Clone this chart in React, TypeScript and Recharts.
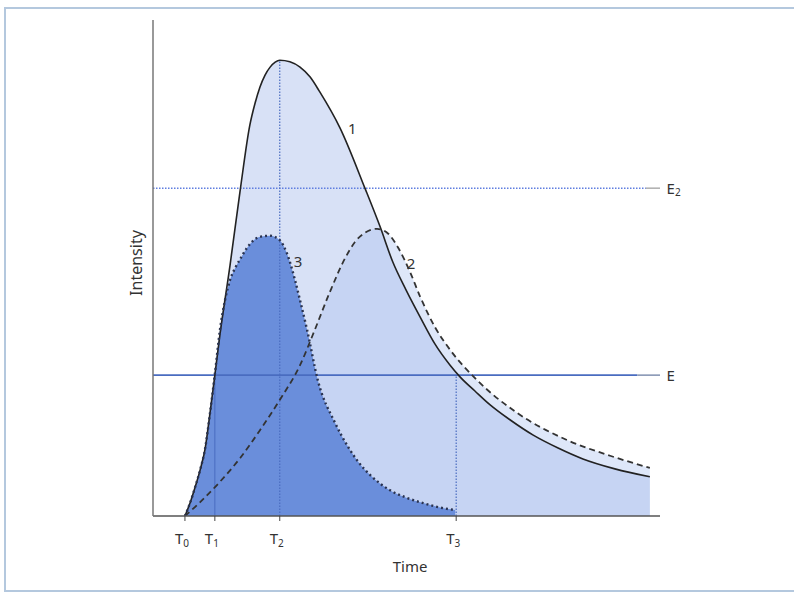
import React from "react";
import {
  ComposedChart,
  Area,
  Line,
  XAxis,
  YAxis,
  ReferenceLine,
  ReferenceDot,
} from "recharts";

// curve 1 (solid) – total response
const curve1X = [6.3, 7.3, 8.3, 9.3, 10.3, 11.2, 12.2, 13.2, 15.2, 17.2, 19.1, 20.1, 21.1, 22.1, 23.1, 24.1, 25.0, 27.0, 29.0, 31.0, 32.9, 36.9, 41.8, 44.8, 47.3, 49.9, 52.7, 55.6, 58.6, 60.6, 63.5, 66.5, 70.4, 75.0, 79.9, 84.8, 91.1, 98.0];
const curve1Y = [0, 2.6, 5.8, 9.3, 13.7, 20.4, 28.4, 36.5, 50.6, 65.7, 78.8, 83.1, 86.5, 88.9, 90.5, 91.5, 91.9, 91.6, 90.5, 88.5, 85.5, 78.2, 66.1, 58.3, 51.2, 45.6, 40.1, 34.7, 30.4, 28.0, 25.2, 22.4, 19.4, 16.3, 13.7, 11.5, 9.5, 7.9];

// curve 2 (dashed)
const curve2X = [6.3, 9.3, 13.2, 17.2, 21.1, 25.0, 29.0, 31.9, 34.9, 37.9, 39.8, 41.8, 44.2, 46.4, 48.3, 50.7, 52.7, 55.6, 58.6, 63.9, 71.8, 81.7, 90.3, 98.0];
const curve2Y = [0, 2.8, 6.9, 11.7, 17.3, 23.4, 30.4, 37.5, 45.2, 52.0, 55.2, 57.1, 57.9, 56.9, 54.2, 49.2, 44.2, 38.1, 33.5, 27.4, 20.8, 15.3, 12.1, 9.7];

// curve 3 (dotted)
const curve3X = [6.3, 7.3, 8.3, 9.3, 10.3, 11.2, 12.2, 13.2, 14.2, 15.2, 16.2, 17.2, 18.5, 21.1, 23.1, 25.0, 26.4, 28.0, 29.0, 30.4, 32.5, 35.9, 38.5, 40.5, 43.0, 46.4, 49.7, 53.3, 56.2, 59.6];
const curve3Y = [0, 2.6, 5.8, 9.3, 13.7, 20.4, 28.6, 37.5, 43.5, 47.6, 50.0, 51.8, 54.0, 56.3, 56.5, 55.6, 53.0, 47.6, 43.5, 37.5, 27.4, 18.8, 13.9, 10.9, 8.1, 5.4, 3.8, 2.6, 1.8, 1.2];

// time marks T0..T3 and thresholds
const timeTicks = [6.3, 12.2, 25.0, 59.8];
const tickSubs = ["0", "1", "2", "3"];
const levelE = 28.4;
const levelE2 = 66.1;
const peak1 = 91.9;

const toRows = (xs: number[], ys: number[]) => xs.map((x, i) => ({ x, y: ys[i] }));
const data1 = toRows(curve1X, curve1Y);
const data2 = toRows(curve2X, curve2Y);
const data3 = toRows(curve3X, curve3Y);

const FONT = "'Noto Sans', 'Open Sans', sans-serif";

const TimeTick = (props: any) => {
  const { x, y, payload } = props;
  const i = timeTicks.indexOf(payload.value);
  return (
    <text x={x - 3} y={y + 21} textAnchor="middle" fontSize={15} fill="#333" fontFamily={FONT}>
      T
      <tspan fontSize={10} dy={3}>
        {tickSubs[i]}
      </tspan>
    </text>
  );
};

const textDot = (label: string, sub?: string, anchor: string = "middle", size = 15, angle = 0) =>
  (p: any) => (
    <text
      x={p.cx}
      y={p.cy}
      textAnchor={anchor}
      dominantBaseline="central"
      fontSize={size}
      fill="#333"
      fontFamily={FONT}
      transform={angle ? `rotate(${angle} ${p.cx} ${p.cy})` : undefined}
    >
      {label}
      {sub && (
        <tspan fontSize={10} dy={4}>
          {sub}
        </tspan>
      )}
    </text>
  );

export default function App() {
  return (
    <div style={{ position: "absolute", left: 0, top: 0, width: 794, height: 592, overflow: "hidden", background: "#fff" }}>
      <div
        style={{
          position: "absolute",
          left: 4,
          top: 7,
          width: 790,
          height: 581,
          borderLeft: "2px solid #b4c8de",
          borderTop: "2px solid #b4c8de",
          borderBottom: "2px solid #b4c8de",
        }}
      />
      <div style={{ position: "absolute", left: 0, top: 0 }}>
        <ComposedChart width={794} height={592} margin={{ top: 20, left: 133, right: 134, bottom: 16 }}>
          <XAxis
            type="number"
            dataKey="x"
            domain={[0, 100]}
            allowDataOverflow
            ticks={timeTicks}
            height={60}
            tickSize={5}
            axisLine={{ stroke: "#555", strokeWidth: 1.5 }}
            tickLine={{ stroke: "#444" }}
            tick={<TimeTick />}
          />
          <YAxis
            type="number"
            domain={[0, 100]}
            allowDataOverflow
            width={20}
            tick={false}
            tickLine={false}
            axisLine={{ stroke: "#777", strokeWidth: 1.5 }}
          />

          <Area data={data1} dataKey="y" type="monotone" fill="#d8e1f6" fillOpacity={1} stroke="none" isAnimationActive={false} />
          <Area data={data2} dataKey="y" type="monotone" fill="#a9bfee" fillOpacity={0.38} stroke="none" isAnimationActive={false} />
          <Area data={data3} dataKey="y" type="monotone" fill="#6a8edb" fillOpacity={1} stroke="none" isAnimationActive={false} />

          <ReferenceLine segment={[{ x: 0, y: levelE2 }, { x: 97.2, y: levelE2 }]} stroke="#5f7ee0" strokeDasharray="1.5 1.5" strokeWidth={1.5} />
          <ReferenceLine segment={[{ x: 97.2, y: levelE2 }, { x: 100, y: levelE2 }]} stroke="#999" strokeWidth={1.2} />
          <ReferenceLine segment={[{ x: 0, y: levelE }, { x: 95.5, y: levelE }]} stroke="#4a6cc0" strokeWidth={1.6} />
          <ReferenceLine segment={[{ x: 95.5, y: levelE }, { x: 100, y: levelE }]} stroke="#8090b0" strokeWidth={1.5} />
          <ReferenceLine segment={[{ x: timeTicks[1], y: 0 }, { x: timeTicks[1], y: levelE }]} stroke="#4a6cc0" strokeWidth={1} />
          <ReferenceLine segment={[{ x: timeTicks[2], y: 0 }, { x: timeTicks[2], y: peak1 }]} stroke="#4a6cc0" strokeDasharray="1.5 1.5" strokeWidth={1.2} />
          <ReferenceLine segment={[{ x: timeTicks[3], y: 0 }, { x: timeTicks[3], y: levelE }]} stroke="#4a6cc0" strokeDasharray="1.5 1.5" strokeWidth={1.2} />

          <Line data={data1} dataKey="y" type="monotone" stroke="#222" strokeWidth={1.6} dot={false} isAnimationActive={false} />
          <Line data={data2} dataKey="y" type="monotone" stroke="#333" strokeWidth={1.8} strokeDasharray="6 4" dot={false} isAnimationActive={false} />
          <Line data={data3} dataKey="y" type="monotone" stroke="#2a3350" strokeWidth={2.4} strokeDasharray="2 3" dot={false} isAnimationActive={false} />

          <ReferenceDot x={39.3} y={78.2} r={0} ifOverflow="visible" shape={textDot("1")} />
          <ReferenceDot x={50.9} y={51.0} r={0} ifOverflow="visible" shape={textDot("2")} />
          <ReferenceDot x={28.6} y={51.4} r={0} ifOverflow="visible" shape={textDot("3")} />
          <ReferenceDot x={101.3} y={levelE2} r={0} ifOverflow="visible" shape={textDot("E", "2", "start")} />
          <ReferenceDot x={101.3} y={levelE} r={0} ifOverflow="visible" shape={textDot("E", undefined, "start")} />
          <ReferenceDot x={50.7} y={-10.1} r={0} ifOverflow="visible" shape={textDot("Time")} />
          <ReferenceDot x={-3.4} y={51} r={0} ifOverflow="visible" shape={textDot("Intensity", undefined, "middle", 16, -90)} />
        </ComposedChart>
      </div>
    </div>
  );
}
